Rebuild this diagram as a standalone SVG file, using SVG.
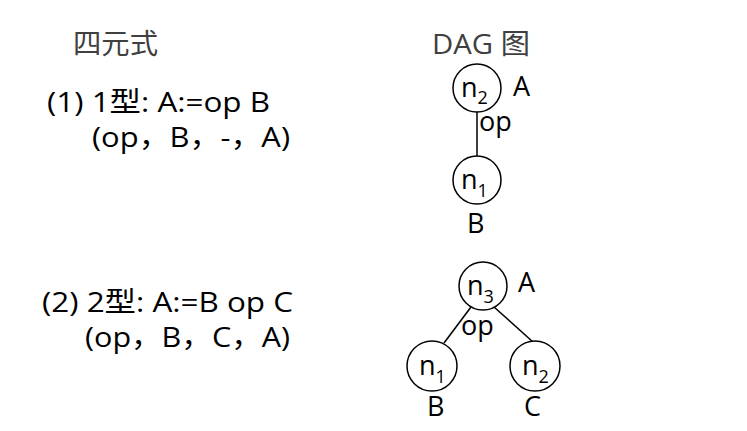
<svg xmlns="http://www.w3.org/2000/svg" width="747" height="431" viewBox="0 0 747 431">
<style>
text{font-family:"Open Sans","Noto Sans CJK SC",sans-serif;fill:#000;font-size:27px}
.h{fill:#404040;font-size:28px}
.q{font-size:28px}
.sub{font-size:18px}
circle{fill:#fff;stroke:#000;stroke-width:1.5}
line{stroke:#000;stroke-width:1.5}
</style>
<rect width="747" height="431" fill="#fff"/>
<g id="labels">
<text class="h" x="73" y="54" textLength="85" lengthAdjust="spacingAndGlyphs">四元式</text>
<text class="h" x="432" y="54" textLength="98" lengthAdjust="spacingAndGlyphs">DAG 图</text>
<text class="q" x="47" y="112" textLength="223" lengthAdjust="spacingAndGlyphs">(1) 1型: A:=op B</text>
<text class="q" x="92" y="147" textLength="198" lengthAdjust="spacingAndGlyphs">(op，B，-，A)</text>
<text class="q" x="42" y="312" textLength="251" lengthAdjust="spacingAndGlyphs">(2) 2型: A:=B op C</text>
<text class="q" x="85" y="347" textLength="205" lengthAdjust="spacingAndGlyphs">(op，B，C，A)</text>
</g>
<g id="connectors">
<line x1="477" y1="112" x2="477" y2="156"/>
<line x1="471" y1="307" x2="444" y2="343"/>
<line x1="494" y1="307" x2="533" y2="342"/>
</g>
<g id="dag1-n2">
<circle cx="477" cy="88" r="24"/>
<text x="461" y="97">n<tspan class="sub" dy="7">2</tspan></text>
<text x="513" y="96">A</text>
<text x="479" y="131">op</text>
</g>
<g id="dag1-n1">
<circle cx="477" cy="180" r="24"/>
<text x="461" y="189">n<tspan class="sub" dy="8">1</tspan></text>
<text x="467" y="233">B</text>
</g>
<g id="dag2-n3">
<circle cx="483" cy="286" r="24"/>
<text x="467" y="295">n<tspan class="sub" dy="8">3</tspan></text>
<text x="518" y="292">A</text>
<text x="461" y="335">op</text>
</g>
<g id="dag2-n1">
<circle cx="432" cy="366" r="25"/>
<text x="419" y="375">n<tspan class="sub" dy="8">1</tspan></text>
<text x="427" y="416">B</text>
</g>
<g id="dag2-n2">
<circle cx="535" cy="366" r="25"/>
<text x="522" y="375">n<tspan class="sub" dy="8">2</tspan></text>
<text x="524" y="416">C</text>
</g>
</svg>
